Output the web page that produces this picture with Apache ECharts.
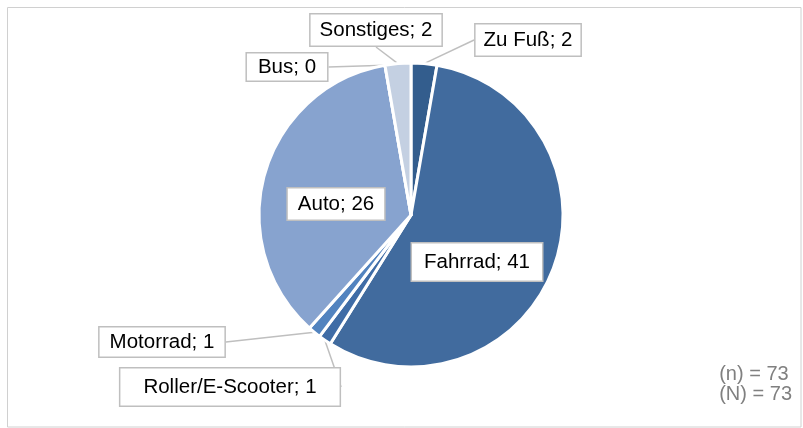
<!DOCTYPE html>
<html>
<head>
<meta charset="utf-8">
<script src="https://cdn.jsdelivr.net/npm/echarts@6/dist/echarts.min.js"></script>
<style>html,body{margin:0;padding:0;background:#fff}#c{width:803px;height:428px}</style>
</head>
<body>
<div id="c"></div>
<script>
// ---- data ----
const categories = ['Zu Fuß', 'Fahrrad', 'Roller/E-Scooter', 'Motorrad', 'Auto', 'Bus', 'Sonstiges'];
const values = [2, 41, 1, 1, 26, 0, 2];
const sampleNotes = ['(n) = 73', '(N) = 73'];

// ---- styling / layout (kept separate from data) ----
const colors = ['#335d8d', '#416b9e', '#3f6ca6', '#5283bf', '#87a3cf', '#9db3d8', '#c4d0e2'];
// label box centers and paddings
const labelPos = {
  'Zu Fuß': {x: 528, y: 40, pad: [5, 8], line: true},
  'Fahrrad': {x: 477, y: 262, pad: [8, 12], line: false},
  'Roller/E-Scooter': {x: 230, y: 387, pad: [8, 23], line: true},
  'Motorrad': {x: 162, y: 342, pad: [4, 10], line: true},
  'Auto': {x: 336, y: 204, pad: [5, 10], line: false},
  'Bus': {x: 287, y: 67, pad: [3, 11], line: true},
  'Sonstiges': {x: 376, y: 30, pad: [5, 9], line: true}
};

const chart = echarts.init(document.getElementById('c'));
const seriesData = categories.map((name, i) => ({
  name: name,
  value: values[i],
  itemStyle: {color: colors[i]},
  label: {padding: labelPos[name].pad},
  labelLine: {show: labelPos[name].line}
}));

chart.setOption({
  animation: false,
  graphic: [
    {type: 'rect', shape: {x: 7.5, y: 7.5, width: 793.5, height: 419.5},
     style: {fill: 'none', stroke: '#d0d0d0', lineWidth: 1}, silent: true, z: -1},
    {type: 'text', right: 11, top: 364,
     style: {text: sampleNotes.join('\n'), fill: '#808080', font: '20px "Liberation Sans", Arial, sans-serif',
             lineHeight: 20, align: 'right'}}
  ],
  series: [{
    type: 'pie',
    center: [411, 215],
    radius: 152,
    startAngle: 90,
    clockwise: true,
    avoidLabelOverlap: false,
    itemStyle: {borderColor: '#ffffff', borderWidth: 3},
    label: {
      show: true,
      position: 'outside',
      formatter: p => p.name + '; ' + p.value,
      fontFamily: '"Liberation Sans", Arial, sans-serif',
      fontSize: 20.5,
      color: '#000',
      backgroundColor: '#ffffff',
      borderColor: '#bfbfbf',
      borderWidth: 1.5
    },
    labelLine: {show: true, length: 0, length2: 0, smooth: false,
      lineStyle: {color: '#bfbfbf', width: 1.5}},
    labelLayout: function (params) {
      const name = categories[params.dataIndex];
      const p = labelPos[name];
      return {x: p.x, y: p.y, align: 'center', verticalAlign: 'middle'};
    },
    emphasis: {disabled: true},
    data: seriesData
  }]
});
</script>
</body>
</html>
